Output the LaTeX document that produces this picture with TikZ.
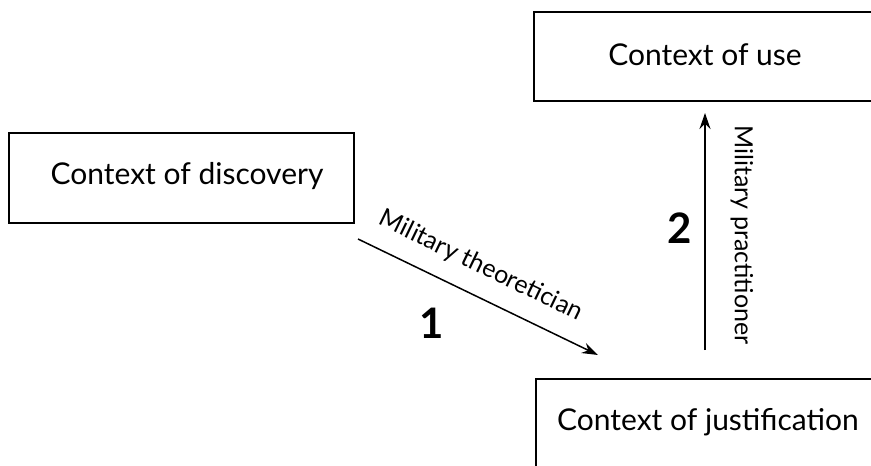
\documentclass[tikz,border=0pt]{standalone}
\usepackage{fontspec}
\setmainfont{Lato}
\usetikzlibrary{arrows.meta}
\tikzset{
  ctxbox/.style={draw, line width=1.8pt, rectangle, inner sep=0pt},
  ctxtext/.style={anchor=base, font=\fontsize{30}{34}\selectfont},
  rolelabel/.style={font=\fontsize{25}{29}\selectfont, inner sep=0pt},
  stepnum/.style={font=\fontsize{42}{46}\selectfont\bfseries, inner sep=0pt},
  flow/.style={line width=1.5pt, -{Stealth[length=16pt,width=11pt]}}
}
\begin{document}
\begin{tikzpicture}[x=1pt,y=-1pt]
  \useasboundingbox (0,0) rectangle (871,466);
  \clip (0,0) rectangle (871,466);

  % the three contexts
  \node[ctxbox, anchor=north west, minimum width=345pt, minimum height=90pt] (disc) at (8,132) {};
  \node[ctxtext] (disctxt) at (187,184) {Context of discovery};

  \node[ctxbox, anchor=north west, minimum width=350pt, minimum height=89pt] (use) at (533,11) {};
  \node[ctxtext] (usetxt) at (705,65) {Context of use};

  \node[ctxbox, anchor=north west, minimum width=360pt, minimum height=110pt] (just) at (535,378) {};
  \node[ctxtext] (justtxt) at (708,430) {Context of justification};

  % arrow 1: discovery -> justification
  \coordinate (t1) at (358,239);
  \coordinate (h1) at (598,355);
  \draw[flow] (t1) -- (h1);
  \node[rolelabel, rotate=-25.8] (theo) at (481,266) {Military theoretician};
  \node[stepnum] (n1) at (432,323) {1};

  % arrow 2: justification -> use
  \coordinate (t2) at (705,350);
  \coordinate (h2) at (705,113);
  \draw[flow] (t2) -- (h2);
  \node[rolelabel, rotate=-90] (prac) at (742,235) {Military practitioner};
  \node[stepnum] (n2) at (680,228) {2};
\end{tikzpicture}
\end{document}
